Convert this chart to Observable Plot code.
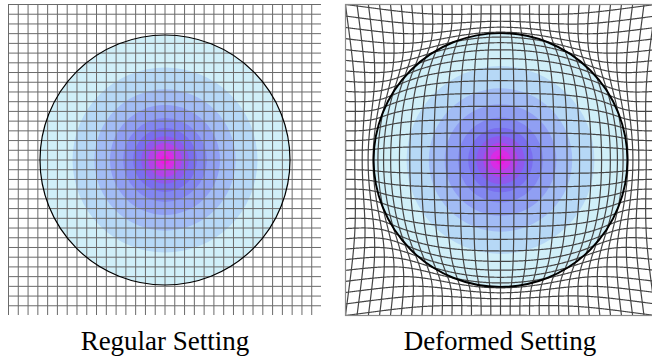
<!DOCTYPE html>
<html><head><meta charset="utf-8">
<script src="https://cdn.jsdelivr.net/npm/d3@7"></script>
<script src="https://cdn.jsdelivr.net/npm/@observablehq/plot@0.6"></script>
<style>
html,body{margin:0;padding:0;background:#fff;overflow:hidden;width:652px;height:360px}
#wrap{position:relative;width:652px;height:360px;overflow:hidden}
.panel{position:absolute;top:0}
.label{position:absolute;top:323px;width:300px;height:36px;line-height:36px;font-family:"Liberation Serif",serif;font-size:27px;color:#000;text-align:center;white-space:nowrap}
</style></head><body><div id="wrap"></div>
<script>
// ---- data ----
const titles = ["Regular Setting", "Deformed Setting"];
const gridCells = [32, 32];                  // cells per side of each (base) grid
const circleRadius = [12.78, 13.1];          // circle radius, in grid cells
const ringLevels = [0, 1, 2, 3, 4, 5, 6, 7, 8, 9];
const ringFractions = [1.00, 0.74, 0.565, 0.44, 0.335, 0.255, 0.19, 0.135, 0.08, 0.035];
const ringColors = ["#d0eff8", "#b6d8f6", "#a2bcf5", "#909ff3", "#8286f1", "#7a6eef", "#9058ec", "#b442e8", "#d82ce4", "#ee18e0"];
// deformation: local stretch = expand - squeeze * gaussian band around the circle
const expand = 1.39;
const squeeze = 0.9;
const bandWidth = 4.3;

// ---- layout ----
const panels = [
  {left: 0, width: 330, ml: 8, mr: 9, deform: false, stroke: "#6a6a6a", sw: 1, cw: 1.2, labelX: 165},
  {left: 330, width: 330, ml: 15, mr: 5, deform: true, stroke: "#454545", sw: 1.2, cw: 1.9, labelX: 500}
];

const wrap = document.getElementById("wrap");

function makeRadialMap(R) {
  const dr = 0.005, maxR = 40;
  const gOf = rc => {
    const vals = [0];
    let acc = 0;
    for (let i = 1; i * dr <= maxR; i++) {
      const r = (i - 0.5) * dr;
      acc += (expand - squeeze * Math.exp(-(((r - rc) / bandWidth) ** 2))) * dr;
      vals.push(acc);
    }
    return r => {
      const t = r / dr, i = Math.floor(t);
      if (i >= vals.length - 1) return vals[vals.length - 1] + (r - (vals.length - 1) * dr) * expand;
      return vals[i] + (vals[i + 1] - vals[i]) * (t - i);
    };
  };
  let lo = 0, hi = R;
  for (let it = 0; it < 40; it++) {
    const mid = (lo + hi) / 2;
    if (gOf(mid)(mid) < R) lo = mid; else hi = mid;
  }
  return gOf((lo + hi) / 2);
}

panels.forEach((p, k) => {
  const N = gridCells[k], c = N / 2, R = circleRadius[k];
  const g = p.deform ? makeRadialMap(R) : (r => r);
  const warp = (x, y) => {
    const dx = x - c, dy = y - c, r = Math.hypot(dx, dy);
    if (r === 0) return [x, y];
    const s = g(r) / r;
    return [c + dx * s, c + dy * s];
  };
  const steps = p.deform ? N * 12 : 1;
  const pts = [];
  for (let i = 0; i <= N; i++) {
    for (let j = 0; j <= steps; j++) {
      const t = (j / steps) * N;
      const [x1, y1] = warp(i, t);
      pts.push({x: x1, y: y1, id: "v" + i});
    }
    for (let j = 0; j <= steps; j++) {
      const t = (j / steps) * N;
      const [x2, y2] = warp(t, i);
      pts.push({x: x2, y: y2, id: "h" + i});
    }
  }
  const rings = ringLevels.map((l, j) => ({level: l, r: ringFractions[j] * R}));
  const inner = p.width - p.ml - p.mr;
  const marks = [
    Plot.dot(rings, {x: () => c, y: () => c, r: "r", fill: "level", stroke: "none"}),
    Plot.line(pts, {x: "x", y: "y", z: "id", stroke: p.stroke, strokeWidth: p.sw, clip: true})
  ];
  if (p.deform) marks.push(Plot.frame({stroke: "#8a8a8a", strokeWidth: 1.2}));
  marks.push(Plot.dot([{r: R}], {x: () => c, y: () => c, r: "r", fill: "none", stroke: "#000", strokeWidth: p.cw}));
  const chart = Plot.plot({
    width: p.width, height: 320,
    marginLeft: p.ml, marginRight: p.mr, marginTop: 4, marginBottom: 5,
    x: {domain: [0, N], axis: null},
    y: {domain: [0, N], axis: null},
    r: {type: "linear", domain: [0, N], range: [0, inner]},
    color: {type: "ordinal", domain: ringLevels, range: ringColors},
    marks
  });
  chart.classList.add("panel");
  chart.style.left = p.left + "px";
  wrap.appendChild(chart);
  const lab = document.createElement("div");
  lab.className = "label";
  lab.textContent = titles[k];
  lab.style.left = (p.labelX - 150) + "px";
  wrap.appendChild(lab);
});
</script></body></html>
